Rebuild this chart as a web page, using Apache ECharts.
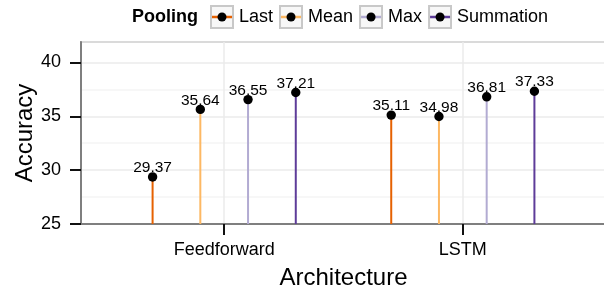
<!DOCTYPE html>
<html>
<head>
<meta charset="utf-8">
<script src="https://cdn.jsdelivr.net/npm/echarts@6/dist/echarts.min.js"></script>
<style>
  html, body { margin: 0; padding: 0; background: #fff; }
  #chart { width: 604px; height: 287px; }
</style>
</head>
<body>
<div id="chart"></div>
<script>
// data
const architectures = ['Feedforward', 'LSTM'];
const poolings = ['Last', 'Mean', 'Max', 'Summation'];
const lastAcc = [29.37, 35.11];
const meanAcc = [35.64, 34.98];
const maxAcc = [36.55, 36.81];
const sumAcc = [37.21, 37.33];
const yTicks = [25, 30, 35, 40];

const accuracy = [lastAcc, meanAcc, maxAcc, sumAcc];
const colors = ['#e66101', '#fdb863', '#b2abd2', '#5e3c99'];
// dodge offsets inside each category (width 0.8, 4 groups)
const dodge = [-0.3, -0.1, 0.1, 0.3];
const FONT = 'Liberation Sans, Arial, sans-serif';
const yMin = yTicks[0];

// legend key: grey box, coloured line, black dot
function keyIcon(color) {
  const svg = '<svg xmlns="http://www.w3.org/2000/svg" width="24" height="24">' +
    '<rect x="1" y="1" width="22" height="22" fill="#f7f7f7" stroke="#c8c8c8" stroke-width="2"/>' +
    '<line x1="2" y1="12" x2="22" y2="12" stroke="' + color + '" stroke-width="2.5"/>' +
    '<circle cx="12" cy="12" r="4.5" fill="#000"/></svg>';
  return 'image://data:image/svg+xml;charset=utf-8,' + encodeURIComponent(svg);
}

function lollipop(color) {
  return function (params, api) {
    const x = api.value(0);
    const y = api.value(1);
    const top = api.coord([x, y]);
    const base = api.coord([x, yMin]);
    return {
      type: 'group',
      children: [
        { type: 'line', shape: { x1: top[0], y1: base[1], x2: top[0], y2: top[1] },
          style: { stroke: color, lineWidth: 2 } },
        { type: 'circle', shape: { cx: top[0], cy: top[1], r: 4.7 },
          style: { fill: '#000' } },
        { type: 'text', style: { text: y.toFixed(2), x: top[0], y: top[1] - 1,
          align: 'center', verticalAlign: 'bottom', fill: '#000',
          font: '15.5px ' + FONT } }
      ]
    };
  };
}

const series = poolings.map((name, i) => ({
  name: name,
  type: 'custom',
  renderItem: lollipop(colors[i]),
  itemStyle: { color: colors[i] },
  data: architectures.map((a, j) => [j + 1 + dodge[i], accuracy[i][j]]),
  clip: false
}));

const chart = echarts.init(document.getElementById('chart'));
chart.setOption({
  animation: false,
  title: {
    text: 'Pooling', left: 132, top: 8, padding: 0,
    textStyle: { fontFamily: FONT, fontSize: 18, fontWeight: 'bold', color: '#000' }
  },
  legend: {
    left: 210, top: 5, padding: 0,
    itemWidth: 24, itemHeight: 24, itemGap: 6,
    textStyle: { fontFamily: FONT, fontSize: 18, color: '#000' },
    data: poolings.map((p, i) => ({ name: p, icon: keyIcon(colors[i]) }))
  },
  grid: {
    left: 81, top: 42, width: 525, bottom: 63,
    outerBoundsMode: 'none', containLabel: false,
    show: true, borderColor: '#8c8c8c', borderWidth: 1.5
  },
  xAxis: {
    type: 'value', min: 0.4, max: 2.6,
    name: 'Architecture', nameLocation: 'middle', nameGap: 42,
    nameMoveOverlap: false,
    nameTextStyle: { fontFamily: FONT, fontSize: 24, color: '#000' },
    axisLine: { show: true, lineStyle: { color: '#7f7f7f', width: 2 } },
    axisTick: { show: true, length: 11, customValues: [1, 2],
      lineStyle: { color: '#111', width: 2 } },
    axisLabel: { customValues: [1, 2], margin: 17,
      fontFamily: FONT, fontSize: 18, color: '#000',
      formatter: v => architectures[Math.round(v) - 1] },
    splitLine: { show: true, lineStyle: { color: '#ebebeb', width: 1.5 } }
  },
  yAxis: {
    type: 'value', min: yMin, max: 41.9, interval: 5,
    name: 'Accuracy', nameLocation: 'middle', nameGap: 44,
    nameMoveOverlap: false,
    nameTextStyle: { fontFamily: FONT, fontSize: 24, color: '#000' },
    axisLine: { show: true, lineStyle: { color: '#7f7f7f', width: 2 } },
    axisTick: { show: true, length: 11, lineStyle: { color: '#111', width: 2 } },
    axisLabel: { margin: 20, fontFamily: FONT, fontSize: 18, color: '#000',
      showMaxLabel: false,
      formatter: v => (yTicks.indexOf(v) >= 0 ? String(v) : '') },
    splitLine: { show: true, lineStyle: { color: '#ebebeb', width: 1.5 } },
    minorTick: { show: false, splitNumber: 2 },
    minorSplitLine: { show: true, lineStyle: { color: '#f5f5f5', width: 1.5 } }
  },
  series: series
});
</script>
</body>
</html>
